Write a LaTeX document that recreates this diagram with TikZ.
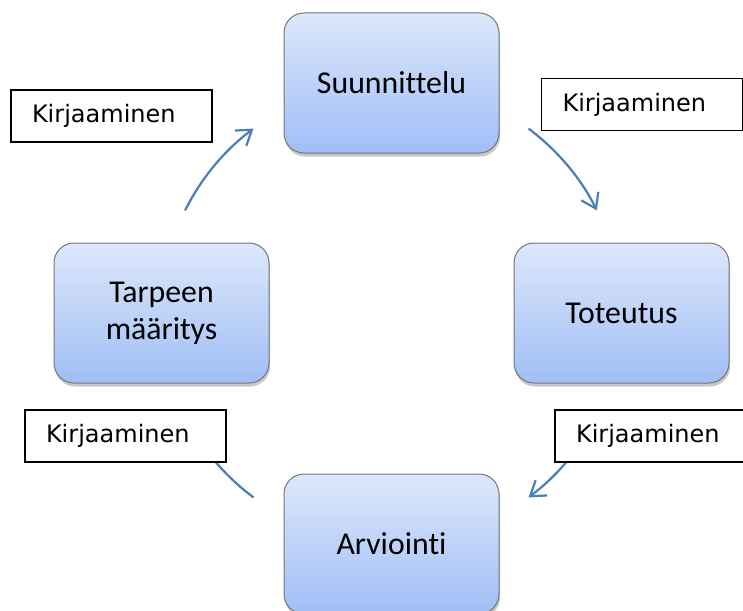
\documentclass[tikz,border=0pt]{standalone}
\usepackage{fontspec}
\setmainfont[RawFeature={-liga}]{Carlito}
\newfontfamily\lblfont{DejaVu Sans}
\usetikzlibrary{arrows.meta,shadows}
\definecolor{boxtop}{RGB}{221,232,251}
\definecolor{boxbot}{RGB}{160,190,246}
\definecolor{boxline}{RGB}{118,118,118}
\definecolor{arrowblue}{RGB}{74,126,187}
\begin{document}
\begin{tikzpicture}[x=1pt,y=-1pt,
  stage/.style={draw=boxline, line width=1pt, rounded corners=20pt,
    top color=boxtop, bottom color=boxbot,
    minimum width=215pt, minimum height=140pt, align=center,
    font=\fontsize{31.8}{37}\selectfont,
    drop shadow={shadow xshift=1pt, shadow yshift=-3.5pt, opacity=.22, fill=black}},
  note/.style={draw=black, line width=1.3pt, fill=white,
    minimum width=201pt, minimum height=52pt, text width=159pt,
    inner xsep=21pt, align=left,
    font=\lblfont\fontsize{24}{28}\selectfont},
  flow/.style={draw=arrowblue, line width=2.2pt,
    -{Straight Barb[length=14pt,width=19pt]}}]
\fill[white] (0,0) rectangle (743,610);
\useasboundingbox (0,0) rectangle (743,610);

% stages
\node[stage] (plan) at (391.5,83) {Suunnittelu};
\node[stage] (impl) at (621.5,313) {Toteutus};
\node[stage] (eval) at (391.5,544) {Arviointi};
\node[stage] (need) at (161.5,313) {Tarpeen\\määritys};

% arc start points on a circle of radius 230 round (391,313)
\coordinate (ctr) at (391,313);
\coordinate (tlS) at (185.1,210.4);
\coordinate (trS) at (528.5,128.6);
\coordinate (brS) at (596.9,415.6);
\coordinate (blS) at (253.5,497.4);

\draw[flow] (tlS) arc[start angle=206.5, end angle=233.3, radius=230];
\draw[flow] (trS) arc[start angle=306.7, end angle=333.5, radius=230];
\draw[flow] (brS) arc[start angle=26.5, end angle=53.3, radius=230];
\draw[flow] (blS) arc[start angle=126.7, end angle=153.5, radius=230];

% notes
\node[note] (ntl) at (111.5,116) {Kirjaaminen};
\node[note] (ntr) at (642,104.5) {Kirjaaminen};
\node[note] (nbl) at (125.5,436) {Kirjaaminen};
\node[note] (nbr) at (655.5,436) {Kirjaaminen};
\end{tikzpicture}
\end{document}
